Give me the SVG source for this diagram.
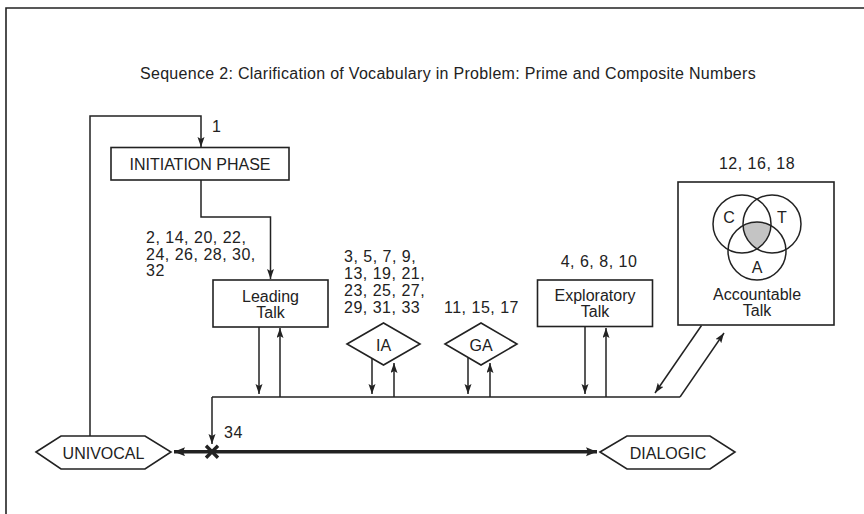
<svg xmlns="http://www.w3.org/2000/svg" width="864" height="514" viewBox="0 0 864 514">
  <defs>
    <style>
      text { font-family: "Liberation Sans", Arial, sans-serif; fill: #222; }
      .t { font-size: 16px; text-anchor: middle; }
      .num { font-size: 16px; letter-spacing: 0.5px; }
      .title { font-size: 16px; letter-spacing: 0.3px; text-anchor: middle; }
      .box { fill: #fff; stroke: #222; stroke-width: 1.6; }
      .ln { fill: none; stroke: #222; stroke-width: 1.5; }
      .arr { fill: none; stroke: #222; stroke-width: 1.5; marker-end: url(#ah); }
      .thick { fill: none; stroke: #222; stroke-width: 3.5; marker-start: url(#bh); marker-end: url(#bh); }
      .circ { fill: none; stroke: #222; stroke-width: 1.5; }
    </style>
    <marker id="ah" markerUnits="userSpaceOnUse" markerWidth="11" markerHeight="8" refX="10" refY="3.5" orient="auto">
      <path d="M0,0 L10,3.5 L0,7 L2,3.5 Z" fill="#222"/>
    </marker>
    <marker id="bh" markerUnits="userSpaceOnUse" markerWidth="12" markerHeight="10" refX="11" refY="4.5" orient="auto-start-reverse">
      <path d="M0,0 L11,4.5 L0,9 L2,4.5 Z" fill="#222"/>
    </marker>
  </defs>

  <rect width="864" height="514" fill="#fff"/>
  <!-- outer frame (open on right and bottom) -->
  <path d="M6,514 V8 H864" fill="none" stroke="#222" stroke-width="1.6"/>

  <text class="title" x="448" y="79">Sequence 2: Clarification of Vocabulary in Problem: Prime and Composite Numbers</text>

  <!-- connectors -->
  <g id="connectors">
    <!-- loop back from UNIVOCAL to the initiation phase -->
    <path class="arr" d="M90,436 V116 H201 V147"/>
    <!-- initiation phase to leading talk -->
    <path class="arr" d="M201,180 V217 H270.5 V279"/>
    <!-- leading talk -->
    <path class="arr" d="M259,327 V394"/>
    <path class="arr" d="M280,397 V328"/>
    <!-- IA -->
    <path class="arr" d="M372,358 V394"/>
    <path class="arr" d="M394,397 V363"/>
    <!-- GA -->
    <path class="arr" d="M468,358 V394"/>
    <path class="arr" d="M490,397 V363"/>
    <!-- exploratory talk -->
    <path class="arr" d="M585,327 V394"/>
    <path class="arr" d="M606,397 V328"/>
    <!-- accountable talk -->
    <path class="arr" d="M701.5,325.5 L655,393"/>
    <path class="arr" d="M680,397 L724,333"/>
    <!-- shared return line -->
    <path class="ln" d="M680,397 H212"/>
    <path class="arr" d="M212,397 V444"/>
    <!-- univocal to dialogic continuum -->
    <path class="thick" d="M174,451.7 H597"/>
    <!-- cross mark at turn 34 -->
    <path d="M206,445.7 L218,457.7 M218,445.7 L206,457.7" stroke="#222" stroke-width="3.4" fill="none"/>
  </g>

  <!-- turn labels -->
  <g id="labels">
    <text class="num" x="212" y="132">1</text>
    <text class="num" x="146" y="243">2, 14, 20, 22,</text>
    <text class="num" x="146" y="259.5">24, 26, 28, 30,</text>
    <text class="num" x="146" y="276">32</text>
    <text class="num" x="344" y="262">3, 5, 7, 9,</text>
    <text class="num" x="344" y="279">13, 19, 21,</text>
    <text class="num" x="344" y="296">23, 25, 27,</text>
    <text class="num" x="344" y="313">29, 31, 33</text>
    <text class="num" x="444" y="313">11, 15, 17</text>
    <text class="num" x="599" y="267" text-anchor="middle">4, 6, 8, 10</text>
    <text class="num" x="757" y="169" text-anchor="middle">12, 16, 18</text>
    <text class="num" x="224" y="438">34</text>
  </g>

  <g id="initiation">
    <rect class="box" x="111" y="147.5" width="178" height="32.5"/>
    <text class="t" x="200" y="170">INITIATION PHASE</text>
  </g>

  <g id="leading">
    <rect class="box" x="213" y="280" width="115" height="47"/>
    <text class="t" x="270.5" y="302">Leading</text>
    <text class="t" x="270.5" y="317.5">Talk</text>
  </g>

  <g id="ia">
    <polygon class="box" points="347,344 383.5,323 420,344 383.5,365"/>
    <text class="t" x="383.5" y="350.5">IA</text>
  </g>

  <g id="ga">
    <polygon class="box" points="445,344 481,323 517,344 481,365"/>
    <text class="t" x="481" y="350.5">GA</text>
  </g>

  <g id="exploratory">
    <rect class="box" x="537.5" y="280" width="115" height="46.5"/>
    <text class="t" x="595" y="300.7">Exploratory</text>
    <text class="t" x="595" y="316.7">Talk</text>
  </g>

  <g id="accountable">
    <rect class="box" x="678" y="182" width="156" height="143"/>
    <path d="M743.04,225.58 A29,29 0 0,1 770.96,225.58 A29,29 0 0,1 757,248.82 A29,29 0 0,1 743.04,225.58 Z" fill="#c4c4c4"/>
    <circle class="circ" cx="742" cy="224" r="29"/>
    <circle class="circ" cx="772" cy="224" r="29"/>
    <circle class="circ" cx="757" cy="251" r="29"/>
    <text class="t" x="729" y="223">C</text>
    <text class="t" x="782" y="223">T</text>
    <text class="t" x="757" y="273">A</text>
    <text class="t" x="757" y="300">Accountable</text>
    <text class="t" x="757" y="316">Talk</text>
  </g>

  <g id="univocal">
    <polygon class="box" points="36,452 61,436 145,436 171,452 145,469 61,469"/>
    <text class="t" x="103.5" y="458.7">UNIVOCAL</text>
  </g>

  <g id="dialogic">
    <polygon class="box" points="600,452 627,436 710,436 735,452 710,469 627,469"/>
    <text class="t" x="668" y="458.7">DIALOGIC</text>
  </g>
</svg>
